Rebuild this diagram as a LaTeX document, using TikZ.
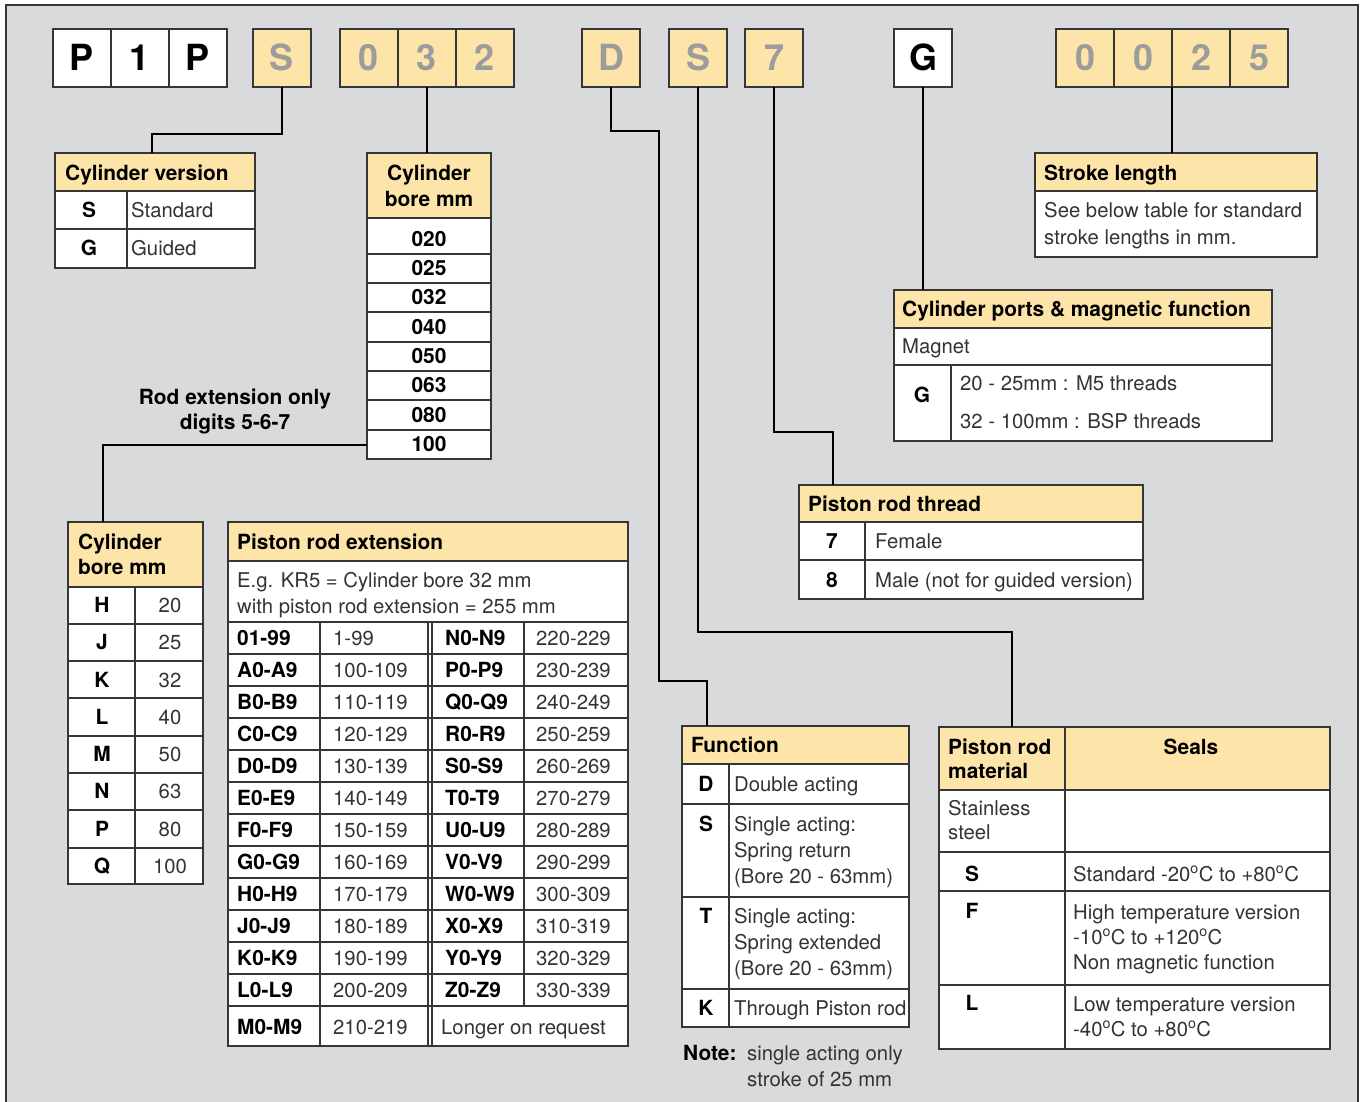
\documentclass[tikz,border=0pt]{standalone}
\usepackage{fontspec}
\setmainfont{TeX Gyre Heros}
\definecolor{bg}{HTML}{D9DADC}
\definecolor{hdr}{HTML}{FDE5A9}
\definecolor{ln}{HTML}{363636}
\definecolor{txt}{HTML}{333333}
\definecolor{dig}{HTML}{9C9C9C}
\newcommand\fs{\fontsize{20.3}{24}\selectfont}
\newcommand\fsb{\fontsize{20.9}{24}\selectfont\bfseries}
\newcommand\fbig{\fontsize{36}{40}\selectfont\bfseries}
\newcommand\mktab[6]{%
  \node[tbox, minimum width=#4pt, minimum height=#5pt] (#1) at (#2,#3) {};
  \fill[hdr] (#1.north west) rectangle ([yshift=-#6pt]#1.north east);
  \draw[tline] ([yshift=-#6pt]#1.north west) -- ([yshift=-#6pt]#1.north east);
  \draw[tline] (#1.north west) rectangle (#1.south east);}
\newcommand\dg{\textsuperscript{o}}
\begin{document}
\begin{tikzpicture}[x=1pt,y=-1pt,
  tline/.style={draw=ln, line width=1.2pt},
  conn/.style={draw=black, line width=2.4pt},
  tbox/.style={draw=ln, line width=1.2pt, fill=white, anchor=north west, inner sep=0pt, outer sep=0pt},
  lt/.style={anchor=west, inner sep=0pt, text height=14.6pt, text depth=0pt, font=\fs, text=txt},
  bt/.style={lt, font=\fsb, text=black},
  ct/.style={anchor=center, inner sep=0pt, text height=14.6pt, text depth=0pt, font=\fs, text=txt},
  cbt/.style={ct, font=\fsb, text=black},
  dbox/.style={draw=ln, line width=1.3pt, anchor=north west, minimum width=58pt, minimum height=58pt, inner sep=0pt, outer sep=0pt, font=\fbig, text height=25.9pt, text depth=0pt},
  ybox/.style={dbox, fill=hdr, text=dig},
  wbox/.style={dbox, fill=white, text=black}]
\useasboundingbox (0,0) rectangle (1360,1101);
\fill[white] (0,0) rectangle (1360,1101);
\filldraw[fill=bg, draw=ln, line width=1.5pt] (6,5) rectangle (1358,1115);

% ---- top code boxes
\node[wbox] (bP1) at (53,29) {P};
\node[wbox] (b1) at (111,29) {1};
\node[wbox] (bP2) at (169,29) {P};
\node[ybox] (bS) at (253,29) {S};
\node[ybox] (b0a) at (340,29) {0};
\node[ybox] (b3) at (398,29) {3};
\node[ybox] (b2a) at (456,29) {2};
\node[ybox] (bD) at (582,29) {D};
\node[ybox] (bS2) at (669,29) {S};
\node[ybox] (b7) at (745,29) {7};
\node[wbox] (bG) at (894,29) {G};
\node[ybox] (c0a) at (1056,29) {0};
\node[ybox] (c0b) at (1114,29) {0};
\node[ybox] (c2) at (1172,29) {2};
\node[ybox] (c5) at (1230,29) {5};

% ---- Cylinder version
\mktab{cv}{55}{153}{200}{115}{38}
\draw[tline] (55,229) -- (255,229) (127,191) -- (127,268);
\node[bt] (cvh) at (65,173) {Cylinder version};
\node[cbt] (cvs) at (89,210) {S};
\node[lt] (cvst) at (131,210) {Standard};
\node[cbt] (cvg) at (89,248) {G};
\node[lt] (cvgt) at (131,248) {Guided};

% ---- Cylinder bore mm (top)
\mktab{cb}{367}{153}{124}{306}{65}
\foreach \yy in {254,283,312,342,371,400,430} \draw[tline] (367,\yy) -- (491,\yy);
\node[cbt] (cbh1) at (429,173) {Cylinder};
\node[cbt] (cbh2) at (429,199) {bore mm};
\foreach \v/\yy [count=\i] in {020/239,025/268,032/297,040/327,050/356,063/385,080/415,100/444}
  \node[cbt] (cbr\i) at (429,\yy) {\v};

% ---- Stroke length
\mktab{sl}{1035}{153}{282}{104}{38}
\node[bt] (slh) at (1044,173) {Stroke length};
\node[lt] (sl1) at (1044,210) {See below table for standard};
\node[lt] (sl2) at (1044,237) {stroke lengths in mm.};

% ---- Cylinder ports & magnetic function
\mktab{cp}{894}{290}{378}{151}{38}
\draw[tline] (894,365) -- (1272,365) (951,365) -- (951,441);
\node[bt] (cph) at (902,309) {Cylinder ports \& magnetic function};
\node[lt] (cpm) at (902,346) {Magnet};
\node[cbt] (cpg) at (922,395) {G};
\node[lt] (cp1) at (960,383) {20 - 25mm : M5 threads};
\node[lt] (cp2) at (960,421) {32 - 100mm : BSP threads};

% ---- Piston rod thread
\mktab{pt}{799}{485}{344}{114}{37}
\draw[tline] (799,560) -- (1143,560) (865,522) -- (865,599);
\node[bt] (pth) at (808,504) {Piston rod thread};
\node[cbt] (pt7) at (832,541) {7};
\node[lt] (pt7t) at (875,541) {Female};
\node[cbt] (pt8) at (832,580) {8};
\node[lt] (pt8t) at (875,580) {Male (not for guided version)};

% ---- Cylinder bore mm (left)
\mktab{cbl}{68}{522}{135}{362}{65}
\foreach \yy in {624,661,698,736,773,810,848} \draw[tline] (68,\yy) -- (203,\yy);
\draw[tline] (135,587) -- (135,884);
\node[bt] (cblh1) at (78,542) {Cylinder};
\node[bt] (cblh2) at (78,567) {bore mm};
\foreach \l/\v/\yy [count=\i] in {H/20/605,J/25/642,K/32/680,L/40/717,M/50/754,N/63/791,P/80/829,Q/100/866}{
  \node[cbt] (cbll\i) at (102,\yy) {\l};
  \node[ct] (cblv\i) at (170,\yy) {\v};}

% ---- Piston rod extension
\mktab{pe}{228}{522}{400}{524}{39}
\draw[tline] (228,622) -- (628,622);
\foreach \i in {1,...,12} \draw[tline] (228,{622+32*\i}) -- (628,{622+32*\i});
\draw[tline] (320,622) -- (320,1046) (428,622) -- (428,1046) (432,622) -- (432,1046) (524,622) -- (524,1006);
\node[bt] (peh) at (237,542) {Piston rod extension};
\node[lt] (pee1) at (237,580) {E.g. KR5 = Cylinder bore 32 mm};
\node[lt] (pee2) at (237,606) {with piston rod extension = 255 mm};
\foreach \a/\b/\c/\d [count=\i from 0] in {01-99/1-99/N0-N9/220-229, A0-A9/100-109/P0-P9/230-239, B0-B9/110-119/Q0-Q9/240-249, C0-C9/120-129/R0-R9/250-259, D0-D9/130-139/S0-S9/260-269, E0-E9/140-149/T0-T9/270-279, F0-F9/150-159/U0-U9/280-289, G0-G9/160-169/V0-V9/290-299, H0-H9/170-179/W0-W9/300-309, J0-J9/180-189/X0-X9/310-319, K0-K9/190-199/Y0-Y9/320-329, L0-L9/200-209/Z0-Z9/330-339}{
  \node[bt] (pea\i) at (237,{638+32*\i}) {\a};
  \node[lt] (peb\i) at (333,{638+32*\i}) {\b};
  \node[bt] (pec\i) at (445,{638+32*\i}) {\c};
  \node[lt] (ped\i) at (536,{638+32*\i}) {\d};}
\node[bt] (pem1) at (237,1027) {M0-M9};
\node[lt] (pem2) at (333,1027) {210-219};
\node[lt] (pem3) at (441,1027) {Longer on request};

% ---- Function
\mktab{fn}{682}{726}{227}{301}{38}
\draw[tline] (682,804) -- (909,804) (682,897) -- (909,897) (682,989) -- (909,989) (729,764) -- (729,1027);
\node[bt] (fnh) at (691,745) {Function};
\node[cbt] (fnd) at (706,784) {D};
\node[lt] (fndt) at (734,784) {Double acting};
\node[cbt] (fns) at (706,824) {S};
\node[lt] (fns1) at (734,824) {Single acting:};
\node[lt] (fns2) at (734,850) {Spring return};
\node[lt] (fns3) at (734,876) {(Bore 20 - 63mm)};
\node[cbt] (fnt) at (706,916) {T};
\node[lt] (fnt1) at (734,916) {Single acting:};
\node[lt] (fnt2) at (734,942) {Spring extended};
\node[lt] (fnt3) at (734,968) {(Bore 20 - 63mm)};
\node[cbt] (fnk) at (706,1008) {K};
\node[lt] (fnkt) at (734,1008) {Through Piston rod};
\node[bt] (note) at (683,1053) {Note:};
\node[lt] (note1) at (747,1053) {single acting only};
\node[lt] (note2) at (747,1079) {stroke of 25 mm};

% ---- Piston rod material / Seals
\mktab{pm}{939}{727}{391}{322}{63}
\draw[tline] (939,852) -- (1330,852) (939,891) -- (1330,891) (939,985) -- (1330,985) (1065,727) -- (1065,1049);
\node[bt] (pmh1) at (948,747) {Piston rod};
\node[bt] (pmh2) at (948,771) {material};
\node[cbt] (pmh3) at (1191,747) {Seals};
\node[lt] (pms1) at (948,808) {Stainless};
\node[lt] (pms2) at (948,832) {steel};
\node[cbt] (pmS) at (972,874) {S};
\node[lt] (pmSt) at (1073,874) {Standard -20\dg C to +80\dg C};
\node[cbt] (pmF) at (972,911) {F};
\node[lt] (pmF1) at (1073,912) {High temperature version};
\node[lt] (pmF2) at (1073,937) {-10\dg C to +120\dg C};
\node[lt] (pmF3) at (1073,962) {Non magnetic function};
\node[cbt] (pmL) at (972,1003) {L};
\node[lt] (pmL1) at (1073,1004) {Low temperature version};
\node[lt] (pmL2) at (1073,1029) {-40\dg C to +80\dg C};

% ---- Rod extension label
\node[cbt] (re1) at (235,397) {Rod extension only};
\node[cbt] (re2) at (235,422) {digits 5-6-7};

% ---- connectors
\draw[conn] (bS.south) -- ++(0,47) -| ([xshift=-3pt]cv.north);
\draw[conn] (b3.south) -- (b3.south |- cb.north);
\draw[conn] (bD.south) -- ++(0,44) -- ++(48,0) -- ++(0,550) -| ([xshift=-88.5pt]fn.north);
\draw[conn] (bS2.south) -- ++(0,545) -| ([xshift=-122.5pt]pm.north);
\draw[conn] (b7.south) -- ++(0,345) -| ([xshift=-138pt]pt.north);
\draw[conn] (bG.south) -- (bG.south |- cp.north);
\draw[conn] (c2.south west) -- (c2.south west |- sl.north);
\draw[conn] ([yshift=14pt]cb.south west) -| ([xshift=-32.5pt]cbl.north);
\end{tikzpicture}
\end{document}
